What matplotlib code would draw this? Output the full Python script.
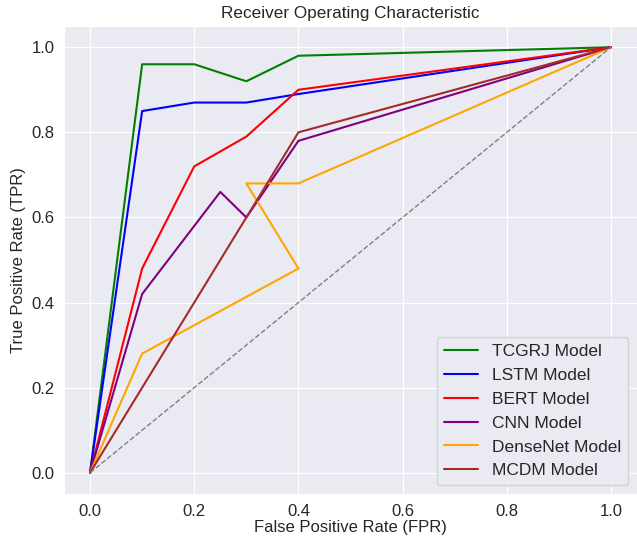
import matplotlib
matplotlib.use('Agg')
import matplotlib.pyplot as plt
import seaborn as sns

sns.set_style('darkgrid')
plt.rcParams['font.family'] = ['Liberation Sans', 'DejaVu Sans']

# ROC points
tcgrj_fpr = [0.0, 0.1, 0.2, 0.3, 0.4, 1.0]
tcgrj_tpr = [0.0, 0.96, 0.96, 0.92, 0.98, 1.0]
lstm_fpr = [0.0, 0.1, 0.2, 0.3, 0.4, 1.0]
lstm_tpr = [0.0, 0.85, 0.87, 0.87, 0.89, 1.0]
bert_fpr = [0.0, 0.1, 0.2, 0.3, 0.4, 1.0]
bert_tpr = [0.0, 0.48, 0.72, 0.79, 0.90, 1.0]
cnn_fpr = [0.0, 0.1, 0.25, 0.3, 0.4, 1.0]
cnn_tpr = [0.0, 0.42, 0.66, 0.60, 0.78, 1.0]
dense_fpr = [0.0, 0.1, 0.4, 0.3, 0.4, 1.0]
dense_tpr = [0.0, 0.28, 0.48, 0.68, 0.68, 1.0]
mcdm_fpr = [0.0, 0.4, 1.0]
mcdm_tpr = [0.0, 0.80, 1.0]

models = [
    ('TCGRJ Model', tcgrj_fpr, tcgrj_tpr, 'green'),
    ('LSTM Model', lstm_fpr, lstm_tpr, 'blue'),
    ('BERT Model', bert_fpr, bert_tpr, 'red'),
    ('CNN Model', cnn_fpr, cnn_tpr, 'purple'),
    ('DenseNet Model', dense_fpr, dense_tpr, 'orange'),
    ('MCDM Model', mcdm_fpr, mcdm_tpr, 'brown'),
]

fig = plt.figure(figsize=(6.37, 5.43), dpi=100)
ax = fig.add_axes([0.1005, 0.0902, 0.8995, 0.862])

for name, fpr, tpr, c in models:
    ax.plot(fpr, tpr, color=c, lw=1.5, label=name)
ax.plot([0, 1], [0, 1], color='gray', lw=1, ls='--')

ax.set_title('Receiver Operating Characteristic', fontsize=12.3)
ax.set_xlabel('False Positive Rate (FPR)', fontsize=12, labelpad=1)
ax.set_ylabel('True Positive Rate (TPR)', fontsize=12)
ax.tick_params(labelsize=12)
ax.legend(loc='lower right', fontsize=12.5)

fig.savefig('out.png', dpi=100)
